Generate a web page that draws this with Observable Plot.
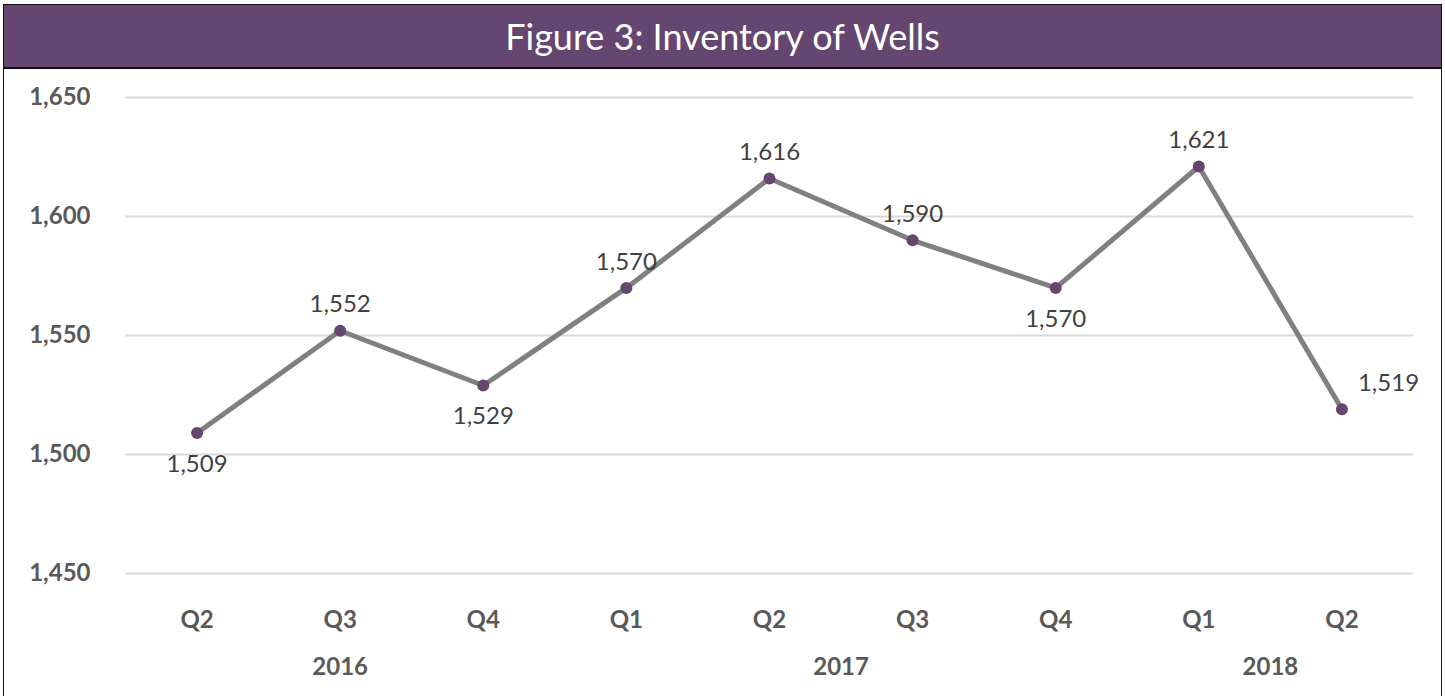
<!DOCTYPE html>
<html>
<head>
<meta charset="utf-8">
<script src="https://cdn.jsdelivr.net/npm/d3@7"></script>
<script src="https://cdn.jsdelivr.net/npm/@observablehq/plot@0.6"></script>
<style>
  html, body { margin: 0; padding: 0; background: #fff; overflow: hidden; }
  body { width: 1445px; height: 696px; position: relative; font-family: Lato, "Open Sans", sans-serif; }
  #frame { position: absolute; left: 3px; top: 4px; width: 1439px; height: 720px; border: 1.5px solid #111; box-sizing: border-box; }
  #title { height: 62px; background: #654670; border-bottom: 2px solid #111; color: #fff; font-size: 36px; font-weight: 400; text-align: center; line-height: 62px; }
  #chart svg { display: block; }
</style>
</head>
<body>
<div id="frame">
  <div id="title">Figure 3: Inventory of Wells</div>
  <div id="chart"></div>
</div>
<script>
const quarters = ["Q2", "Q3", "Q4", "Q1", "Q2", "Q3", "Q4", "Q1", "Q2"];
const wells = [1509, 1552, 1529, 1570, 1616, 1590, 1570, 1621, 1519];
const labelPos = ["below", "above", "below", "above", "above", "above", "below", "above", "right"];
const years = ["2016", "2017", "2018"];
const yearFirst = [0, 3, 7];
const yearLast = [2, 6, 8];
const yTicks = [1450, 1500, 1550, 1600, 1650];

const data = quarters.map((q, i) => ({i, q, v: wells[i], pos: labelPos[i]}));
const fmt = d3.format(",");

const chart = Plot.plot({
  width: 1436,
  height: 627,
  marginLeft: 121,
  marginRight: 27,
  marginTop: 28,
  marginBottom: 123,
  style: {fontFamily: "Lato, 'Open Sans', sans-serif", background: "transparent"},
  x: {type: "linear", domain: [-0.5, 8.5], axis: null},
  y: {domain: [1450, 1650], axis: null},
  marks: [
    Plot.gridY(yTicks, {stroke: "#d9d9d9", strokeOpacity: 1, strokeWidth: 2}),
    Plot.axisY(yTicks, {tickSize: 0, tickPadding: 35, tickFormat: fmt, label: null, fontSize: 24, fontWeight: "bold", color: "#595959"}),
    Plot.text(data, {x: "i", text: "q", frameAnchor: "bottom", dy: 47, lineAnchor: "middle", fontSize: 24, fontWeight: "bold", fill: "#595959"}),
    Plot.text(years, {x: (d, k) => (yearFirst[k] + yearLast[k]) / 2, text: d => d, frameAnchor: "bottom", dy: 94, lineAnchor: "middle", fontSize: 24, fontWeight: "bold", fill: "#595959"}),
    Plot.line(data, {x: "i", y: "v", stroke: "#808080", strokeWidth: 5}),
    Plot.dot(data, {x: "i", y: "v", r: 6, fill: "#65466f", stroke: "none"}),
    Plot.text(data.filter(d => d.pos === "above"), {x: "i", y: "v", text: d => fmt(d.v), dy: -26, lineAnchor: "middle", fontSize: 24, fill: "#404040"}),
    Plot.text(data.filter(d => d.pos === "below"), {x: "i", y: "v", text: d => fmt(d.v), dy: 31, lineAnchor: "middle", fontSize: 24, fill: "#404040"}),
    Plot.text(data.filter(d => d.pos === "right"), {x: "i", y: "v", text: d => fmt(d.v), dx: 16, dy: -26, textAnchor: "start", lineAnchor: "middle", fontSize: 24, fill: "#404040"})
  ]
});
document.getElementById("chart").appendChild(chart);
</script>
</body>
</html>
